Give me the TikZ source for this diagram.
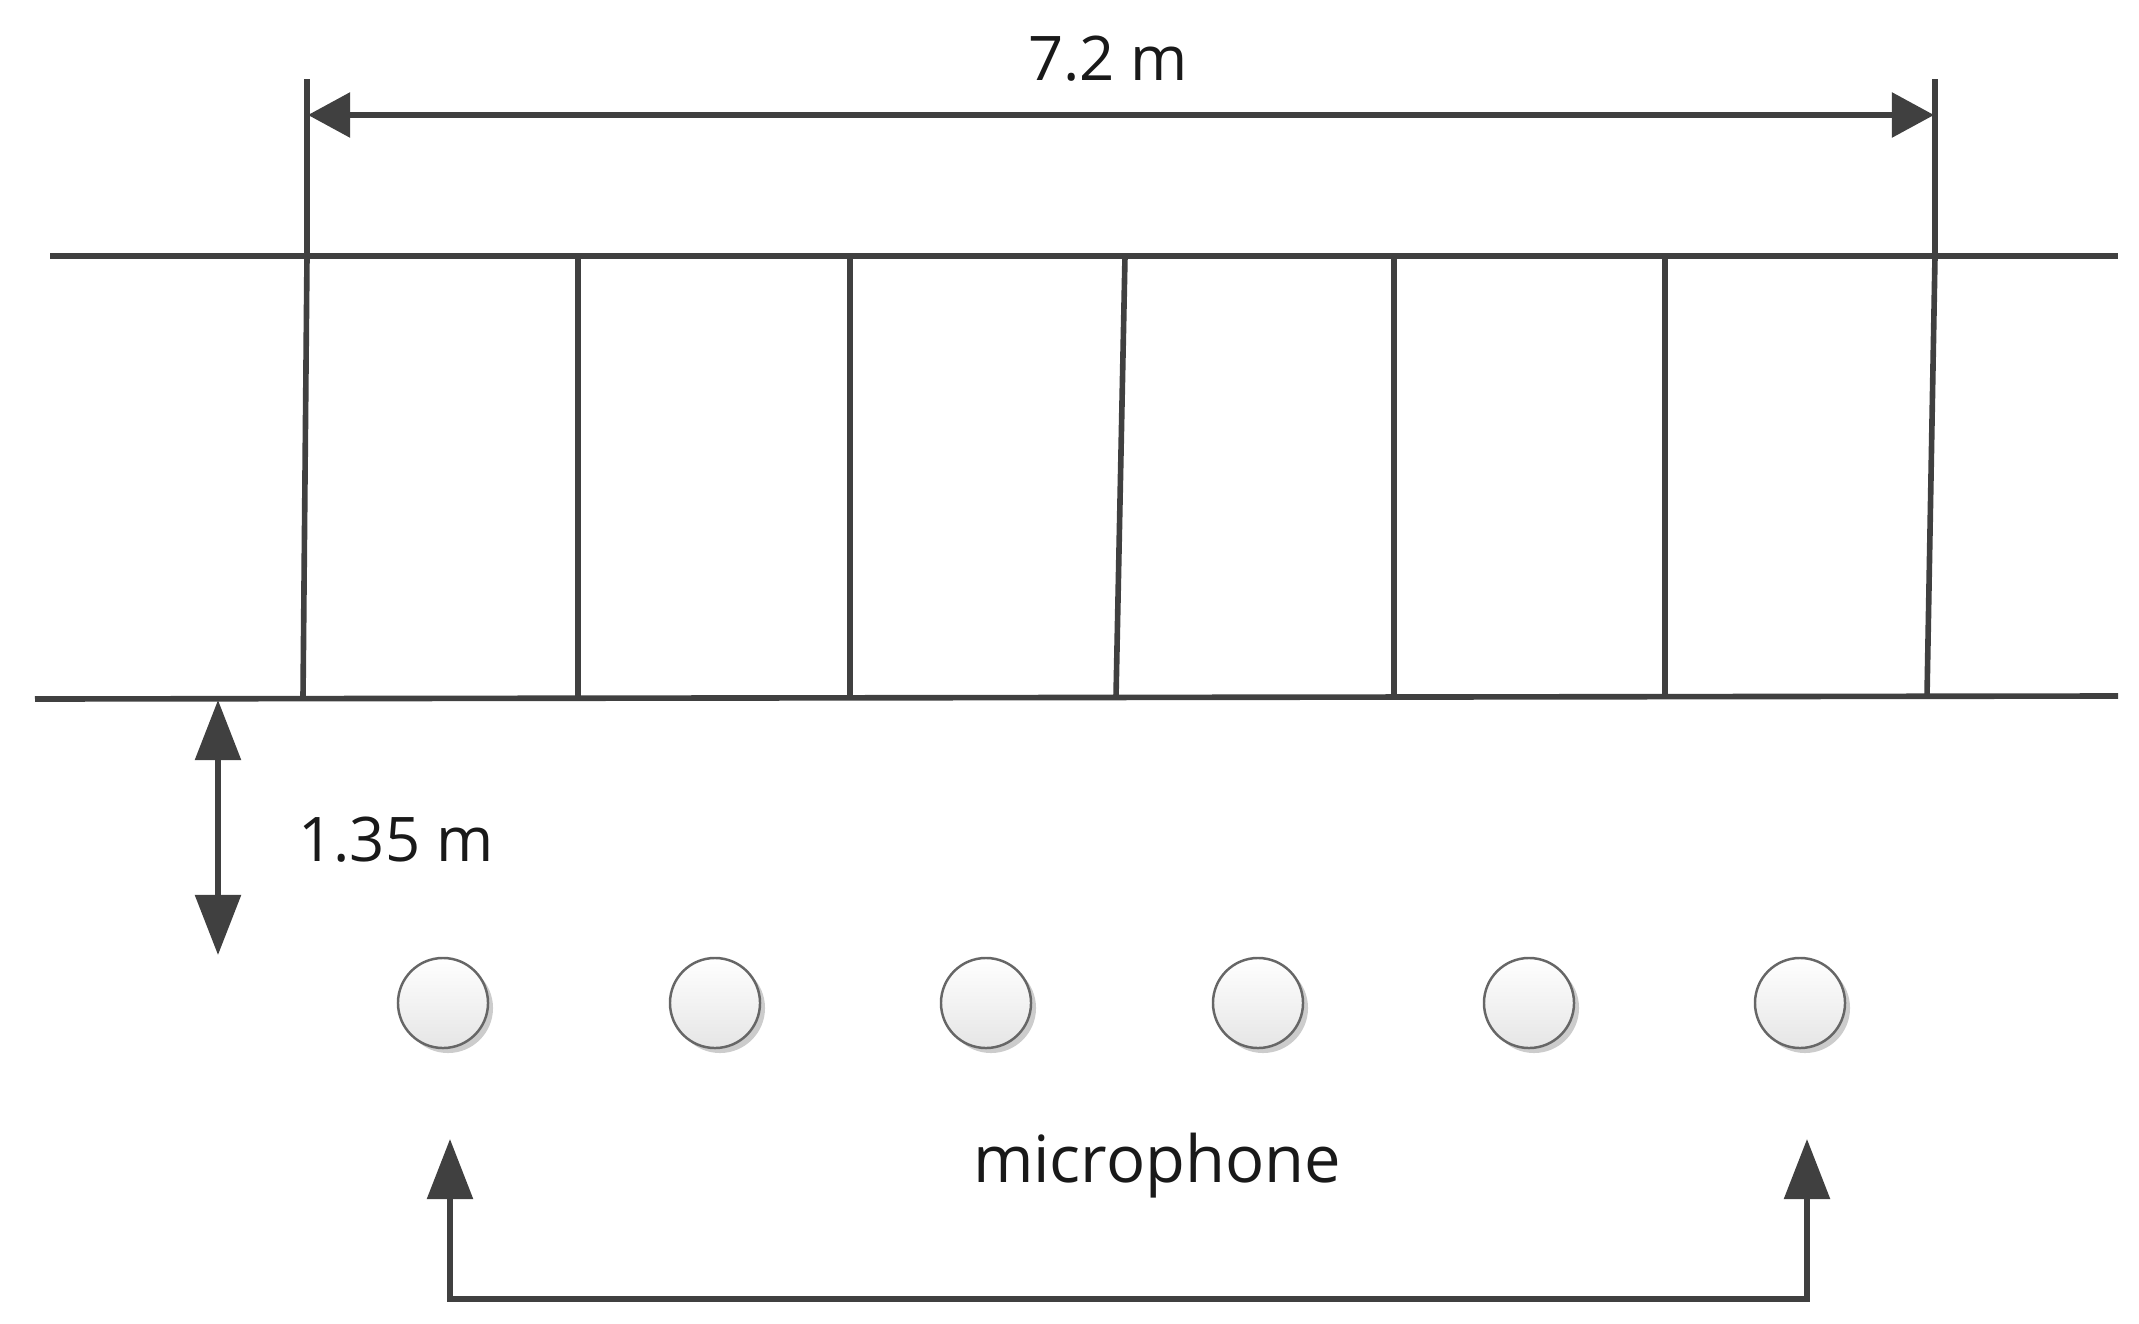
\documentclass[tikz,border=0pt]{standalone}
\usepackage{fontspec}
\setmainfont{Open Sans}
\usetikzlibrary{arrows.meta,shadows}
\definecolor{ln}{HTML}{404040}
\begin{document}
\begin{tikzpicture}[x=0.01cm,y=-0.01cm,
  wall/.style={draw=ln, line width=1.6pt},
  hdim/.style={wall, {Triangle[length=0.42cm,width=0.44cm]}-{Triangle[length=0.42cm,width=0.44cm]}},
  vdim/.style={wall, {Triangle[length=0.6cm,width=0.45cm]}-{Triangle[length=0.6cm,width=0.45cm]}},
  mic/.style={circle, draw=black!60, line width=0.7pt, minimum size=0.9cm, inner sep=0pt,
    top color=white, bottom color=black!10,
    drop shadow={shadow xshift=0.05cm, shadow yshift=-0.05cm, opacity=0.2, fill=black}},
  lbl/.style={font=\fontsize{17.5}{20}\selectfont, text=black!90, inner sep=0pt}]
\useasboundingbox (0,0) rectangle (2139,1324);
% coordinates
\coordinate (tl) at (50,256);
\coordinate (tr) at (2118,256);
\coordinate (bl) at (35,699);
\coordinate (br) at (2118,696);
\coordinate (e1t) at (307,79);
\coordinate (e1m) at (307,256);
\coordinate (e1b) at (303,698);
\coordinate (e2t) at (1935,79);
\coordinate (e2m) at (1935,256);
\coordinate (e2b) at (1927,696);
\coordinate (p1t) at (578,256);  \coordinate (p1b) at (578,698);
\coordinate (p2t) at (850,256);  \coordinate (p2b) at (850,697);
\coordinate (p3t) at (1125,256); \coordinate (p3b) at (1116,697);
\coordinate (p4t) at (1394,256); \coordinate (p4b) at (1394,697);
\coordinate (p5t) at (1665,256); \coordinate (p5b) at (1665,696);
\coordinate (d1) at (308,115);
\coordinate (d2) at (1934,115);
\coordinate (v1) at (218,700);
\coordinate (v2) at (218,955);
\coordinate (b1) at (450,1139);
\coordinate (b2) at (1807,1139);
% walls
\draw[wall] (tl) -- (tr);
\draw[wall] (bl) -- (br);
\draw[wall] (e1t) -- (e1m) -- (e1b);
\draw[wall] (e2t) -- (e2m) -- (e2b);
\foreach \i in {1,...,5} \draw[wall] (p\i t) -- (p\i b);
% dimensions
\draw[hdim] (d1) -- (d2);
\node[lbl] (w) at (1108,59) {7.2 m};
\draw[vdim] (v1) -- (v2);
\node[lbl] (h) at (396,840) {1.35 m};
% microphones
\foreach \i/\x in {1/443,2/715,3/986,4/1258,5/1529,6/1800}
  \node[mic] (m\i) at (\x,1003) {};
\node[lbl, font=\fontsize{18.5}{21}\selectfont] (mt) at (1157,1166) {microphone};
\draw[vdim] (b1) -- ++(0,160) -| (b2);
\end{tikzpicture}
\end{document}
